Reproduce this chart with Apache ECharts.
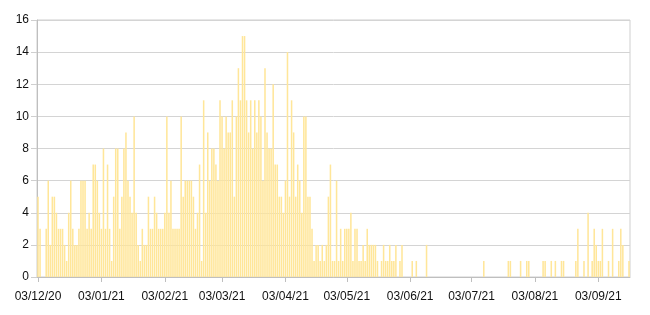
<!DOCTYPE html>
<html><head><meta charset="utf-8">
<script src="https://cdn.jsdelivr.net/npm/echarts@6/dist/echarts.min.js"></script>
<style>html,body{margin:0;padding:0;background:#fff}#c{width:650px;height:315px}</style>
</head><body><div id="c"></div>
<script>
// Daily values, 03/12/20 .. 18/09/21
const dec20 = [5,3,0,0,3,6,2,5,5,4,3,3,3,2,1,4,6,3,2,2,3,6,6,6,3,4,3,7,7];
const jan21 = [6,4,3,8,3,7,3,1,5,8,8,3,5,8,9,6,5,4,10,4,2,1,3,2,2,5,3,3,5,4,3];
const feb21 = [3,3,4,10,4,6,3,3,3,3,10,5,6,6,6,6,5,3,4,7,1,11,4,9,6,8,8,7];
const mar21 = [6,11,10,8,10,9,9,11,5,10,13,11,15,15,11,9,11,8,11,9,11,10,6,13,9,8,8,12,7,7,5];
const apr21 = [5,4,6,14,5,11,9,5,7,6,4,10,10,5,5,3,1,2,2,1,2,1,2,5,7,1,1,6,1,3];
const may21 = [1,3,3,3,4,1,3,3,1,1,2,1,3,2,2,2,2,1,0,1,2,1,1,2,1,1,2,0,1,2,0];
const jun21 = [0,0,0,1,0,1,0,0,0,0,2,0,0,0,0,0,0,0,0,0,0,0,0,0,0,0,0,0,0,0];
const jul21 = [0,0,0,0,0,0,0,0,1,0,0,0,0,0,0,0,0,0,0,0,1,1,0,0,0,0,1,0,0,1,1];
const aug21 = [0,0,0,0,0,0,1,1,0,0,1,0,1,0,0,1,1,0,0,0,0,0,1,3,0,0,1,0,4,0,1];
const sep21 = [3,2,1,1,3,0,0,1,0,3,0,0,1,3,2,0,0,1];
const yTicks = [0,2,4,6,8,10,12,14,16];

const values = [].concat(dec20, jan21, feb21, mar21, apr21, may21, jun21, jul21, aug21, sep21);
const categories = [];
const start = new Date(Date.UTC(2020, 11, 3));
for (let i = 0; i < values.length; i++) {
  const d = new Date(start.getTime() + i * 86400000);
  const dd = String(d.getUTCDate()).padStart(2, '0');
  const mm = String(d.getUTCMonth() + 1).padStart(2, '0');
  const yy = String(d.getUTCFullYear()).slice(2);
  categories.push(dd + '/' + mm + '/' + yy);
}
const isLabel = (idx, val) => val.slice(0, 2) === '03';

const chart = echarts.init(document.getElementById('c'), null, {renderer: 'canvas'});
chart.setOption({
  animation: false,
  grid: {left: 37, right: 20, top: 20, bottom: 38, show: true, borderColor: '#cfcfcf', borderWidth: 1},
  xAxis: {
    type: 'category',
    data: categories,
    boundaryGap: true,
    axisLine: {lineStyle: {color: '#bfbfbf'}},
    axisTick: {show: true, alignWithLabel: true, interval: isLabel, length: 5, lineStyle: {color: '#bfbfbf'}},
    axisLabel: {interval: isLabel, color: '#111', fontSize: 12, fontFamily: 'Liberation Sans, Arial', margin: 14, hideOverlap: false}
  },
  yAxis: {
    type: 'value',
    min: yTicks[0], max: yTicks[yTicks.length - 1], interval: 2,
    axisLine: {show: true, lineStyle: {color: '#bfbfbf'}},
    axisTick: {show: true, length: 6, lineStyle: {color: '#cfcfcf'}},
    splitLine: {lineStyle: {color: '#d4d4d4'}},
    axisLabel: {color: '#111', fontSize: 12, fontFamily: 'Liberation Sans, Arial', margin: 8}
  },
  series: [{
    type: 'bar',
    data: values,
    barCategoryGap: '25%',
    itemStyle: {color: '#ffe699'}
  }]
});
</script></body></html>
